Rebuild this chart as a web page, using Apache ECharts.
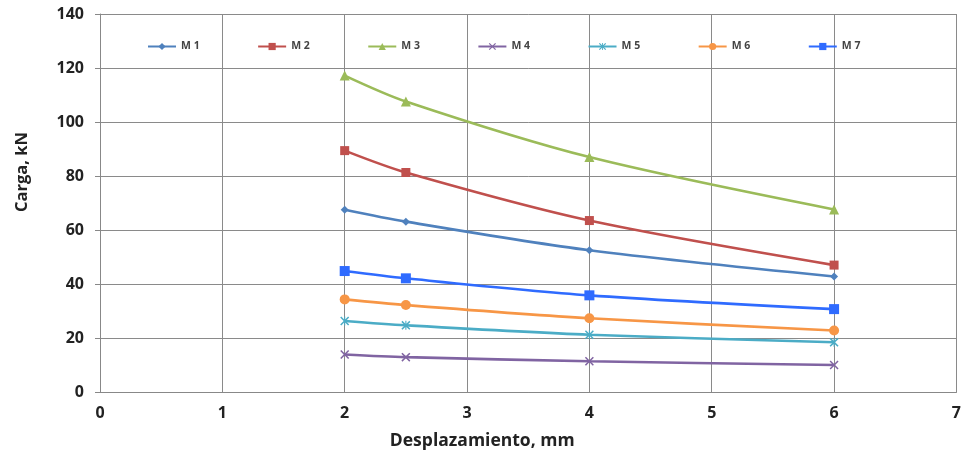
<!DOCTYPE html>
<html><head><meta charset="utf-8">
<script src="https://cdn.jsdelivr.net/npm/echarts@6/dist/echarts.min.js"></script>
<style>html,body{margin:0;padding:0;background:#fff}#c{width:964px;height:455px}</style>
</head><body><div id="c"></div>
<script>
const xValues = [2, 2.5, 4, 6];
const seriesNames = ['M 1', 'M 2', 'M 3', 'M 4', 'M 5', 'M 6', 'M 7'];
const m1 = [67.5, 63.1, 52.5, 42.8];
const m2 = [89.4, 81.3, 63.5, 47.0];
const m3 = [117.2, 107.6, 87.0, 67.6];
const m4 = [13.9, 12.9, 11.4, 10.0];
const m5 = [26.3, 24.7, 21.2, 18.4];
const m6 = [34.3, 32.2, 27.3, 22.8];
const m7 = [44.8, 42.1, 35.8, 30.7];
const xTicks = [0, 1, 2, 3, 4, 5, 6, 7];
const yTicks = [0, 20, 40, 60, 80, 100, 120, 140];

const colors = ['#4F81BD', '#C0504D', '#9BBB59', '#8064A2', '#4BACC6', '#F79646', '#2F6BFF'];
const xPath = 'path://M0,1.2L1.2,0L5,3.8L8.8,0L10,1.2L6.2,5L10,8.8L8.8,10L5,6.2L1.2,10L0,8.8L3.8,5Z';
const starPath = 'path://M0,1.2L1.2,0L5,3.8L8.8,0L10,1.2L6.2,5L10,8.8L8.8,10L5,6.2L1.2,10L0,8.8L3.8,5Z M4.4,0L5.6,0L5.6,10L4.4,10Z';
const symbols = ['diamond', 'rect', 'triangle', xPath, starPath, 'circle', 'rect'];
const sizes = [8, 9, 10, 9, 9, 10, 10];
const allData = [m1, m2, m3, m4, m5, m6, m7];

const font = '"Open Sans", "Liberation Sans", sans-serif';
const chart = echarts.init(document.getElementById('c'), null, {renderer: 'canvas'});
chart.setOption({
  animation: false,
  color: colors,
  grid: {left: 100, right: 6, top: 14, bottom: 63, containLabel: false},
  legend: {
    top: 36, left: 142,
    itemWidth: 28, itemHeight: 9, itemGap: 57.5,
    textStyle: {fontSize: 10.5, fontWeight: 'bold', color: '#444', fontFamily: font},
    data: seriesNames
  },
  xAxis: {
    type: 'value', min: 0, max: 7, interval: 1,
    name: 'Desplazamiento, mm', nameLocation: 'middle', nameGap: 40,
    nameTextStyle: {fontSize: 17.5, fontWeight: 'bold', color: '#222', fontFamily: font, padding: [0, 92, 0, 0]},
    axisLine: {show: true, lineStyle: {color: '#888', width: 1}},
    axisTick: {show: false},
    splitLine: {show: true, lineStyle: {color: '#8a8a8a', width: 1}},
    axisLabel: {fontSize: 16, fontWeight: 'bold', color: '#222', fontFamily: font, margin: 13,
      formatter: v => xTicks.includes(v) ? String(v) : ''}
  },
  yAxis: {
    type: 'value', min: 0, max: 140, interval: 20,
    name: 'Carga, kN', nameLocation: 'middle', nameGap: 69, nameRotate: 90,
    nameTextStyle: {fontSize: 16.5, fontWeight: 'bold', color: '#222', fontFamily: font, padding: [0, 0, 0, 62]},
    axisLine: {show: true, lineStyle: {color: '#888', width: 1}},
    axisTick: {show: true, length: 5, lineStyle: {color: '#888'}},
    splitLine: {show: true, lineStyle: {color: '#8a8a8a', width: 1}},
    axisLabel: {fontSize: 16, fontWeight: 'bold', color: '#222', fontFamily: font, margin: 16,
      formatter: v => yTicks.includes(v) ? String(v) : ''}
  },
  series: seriesNames.map((n, i) => ({
    name: n, type: 'line', smooth: 0.3,
    data: xValues.map((x, j) => [x, allData[i][j]]),
    symbol: symbols[i], symbolSize: sizes[i], showSymbol: true,
    lineStyle: {width: 2.6, color: colors[i]},
    itemStyle: {color: colors[i]}
  }))
});
</script></body></html>
